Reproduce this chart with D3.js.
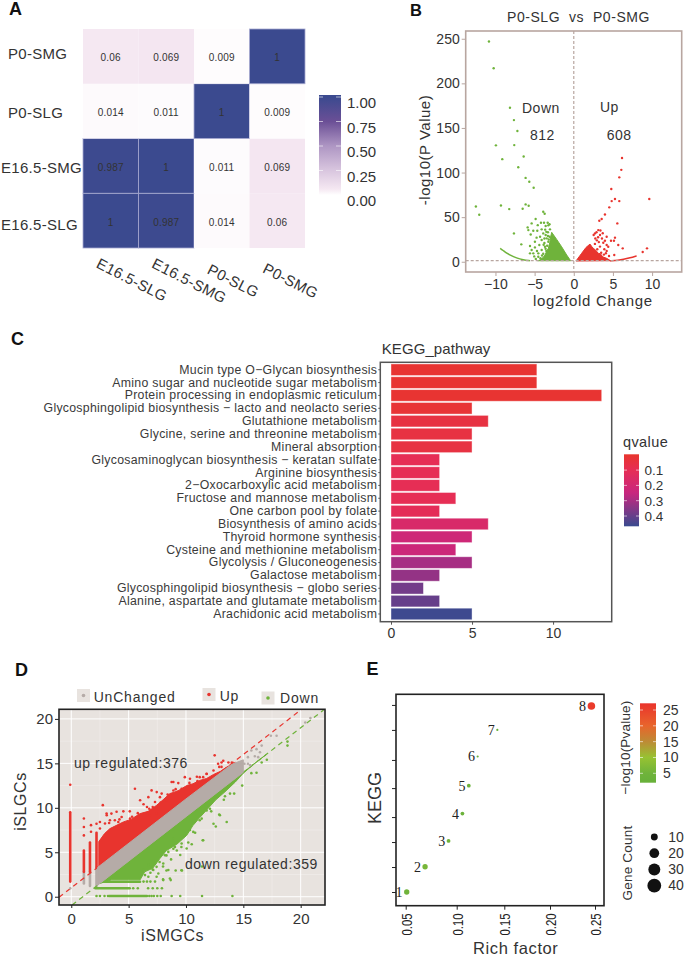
<!DOCTYPE html>
<html>
<head>
<meta charset="utf-8">
<script src="https://cdnjs.cloudflare.com/ajax/libs/d3/7.8.5/d3.min.js"></script>
<style>
  html, body { margin: 0; padding: 0; background: #fff; }
  svg { display: block; }
  text { font-family: "Liberation Sans", Arial, sans-serif; fill: #333; }
  .num { font-family: "Liberation Serif", serif; fill: #222; }
</style>
</head>
<body>
<div id="chart"></div>
<script>
// panel A
const samplesA = ["E16.5-SLG", "E16.5-SMG", "P0-SLG", "P0-SMG"];
const matrixA = [
  [1, 0.987, 0.014, 0.06],
  [0.987, 1, 0.011, 0.069],
  [0.014, 0.011, 1, 0.009],
  [0.06, 0.069, 0.009, 1],
];
const colorTicksA = [0, 0.25, 0.5, 0.75, 1];

// panel B
const downPoints = [
  [-10.83, 247], [-10.23, 217], [-8.15, 172.7], [-7.64, 158.8], [-7.2, 146.5], [-9.94, 130.5],
  [-7.6, 130.8], [-6.4, 118], [-9.13, 115], [-7.09, 106], [-6.15, 94], [-5.68, 89.7], [-5.12, 83],
  [-12.5, 62], [-12.07, 52.7], [-9.3, 63], [-8.24, 59], [-6.53, 59.4], [-6.15, 64.3], [-5.76, 62.8],
  [-3.9, 56], [-3.72, 53.8], [-4.87, 47.9], [-7.64, 31.8], [-6.7, 19.5], [-5.38, 43], [-5.89, 38.5],
  [-5.8, 35.5], [-5.17, 34.8], [-4.66, 34.8], [-4.1, 36.3], [-4.19, 43.7], [-3.8, 43.7], [-3.33, 43.7],
  [-3.25, 40.8], [-3.59, 40], [-3.04, 36.3], [-5.59, 17.6], [-4.96, 22.4], [-4.1, 24.3], [-3.59, 30],
  [-3.9, 31.8], [-3.46, 26.2], [-4.4, 18.7], [-4.96, 16.1], [-5.38, 13.1], [-5.17, 9.4], [-4.53, 9.4],
  [-4.1, 13.1], [-3.68, 16.8], [-3.25, 22.4], [-4.53, 5.6], [-5.59, 9.4], [-3.3, 33], [-3.1, 28],
  [-3.75, 21], [-4.3, 28], [-4.75, 27], [-5.05, 6], [-3.9, 9], [-4.25, 4], [-5.5, 30.5], [-3.5, 12],
  [-3.65, 36], [-3.1, 42], [-4.6, 41], [-3.4, 18], [-3.6, 14.5], [-3.85, 19], [-4.05, 7], [-3.3, 29],
  [-3.5, 33.5], [-4.7, 12], [-4.85, 3.2], [-3.75, 26], [-3.2, 25],
];
const downTail = [[-9.4, 15], [-9.0, 12.5], [-8.7, 10.5], [-8.15, 7.5], [-7.3, 4.1], [-6.45, 2.2], [-5.6, 1.1]];
const downCloud = [
  [-0.4, 1.1], [-0.9, 7.5], [-1.55, 16.8], [-2.18, 25], [-2.82, 33], [-2.95, 28], [-3.05, 22],
  [-3.25, 15], [-3.45, 12], [-3.68, 7.5], [-3.9, 5], [-4.3, 2], [-4.6, 1.1],
];
const upPoints = [
  [6.16, 116.3], [6.07, 103], [5.81, 94.6], [4.79, 81.5], [9.64, 70.3], [5.26, 70.3], [4.84, 68],
  [5.81, 68], [4.53, 61], [3.98, 53], [3.56, 47.9], [3.26, 46], [5.56, 43], [2.54, 30], [9.35, 15],
  [8.8, 10.9], [3.13, 35.5], [3.4, 35], [2.7, 31.8], [3.35, 30], [4.2, 28], [5.26, 27], [4.75, 23.6],
  [5.13, 23.6], [3.98, 23.6], [3.77, 21.3], [4.2, 18.7], [6.25, 15], [5.68, 18.7], [5.17, 7.5],
  [4.4, 16.8], [2.95, 24], [3.2, 22], [2.7, 20], [3.35, 17], [3.9, 14], [4.2, 12], [3.5, 10], [2.75, 26],
  [3.1, 27.5], [3.6, 26], [3.0, 14], [3.85, 8], [4.5, 6.5], [4.1, 9.5], [2.9, 33], [3.7, 32],
];
const upTail = [[4.6, 1], [5.68, 1.6], [6.33, 2.6], [7.18, 4.4], [8.03, 6.6]];
const upCloud = [
  [0.28, 0.8], [1, 9.4], [1.56, 16], [2.07, 19.8], [2.3, 17], [2.5, 15], [2.8, 13], [3.13, 9.4],
  [3.4, 9], [3.7, 5.5], [4.2, 3.8], [4.7, 1.2],
];
const pThreshold = 1.3;
const xTicksB = [-10, -5, 0, 5, 10];
const yTicksB = [0, 50, 100, 150, 200, 250];

// panel C
const pathways = [
  "Mucin type O\u2212Glycan biosynthesis",
  "Amino sugar and nucleotide sugar metabolism",
  "Protein processing in endoplasmic reticulum",
  "Glycosphingolipid biosynthesis \u2212 lacto and neolacto series",
  "Glutathione metabolism",
  "Glycine, serine and threonine metabolism",
  "Mineral absorption",
  "Glycosaminoglycan biosynthesis \u2212 keratan sulfate",
  "Arginine biosynthesis",
  "2\u2212Oxocarboxylic acid metabolism",
  "Fructose and mannose metabolism",
  "One carbon pool by folate",
  "Biosynthesis of amino acids",
  "Thyroid hormone synthesis",
  "Cysteine and methionine metabolism",
  "Glycolysis / Gluconeogenesis",
  "Galactose metabolism",
  "Glycosphingolipid biosynthesis \u2212 globo series",
  "Alanine, aspartate and glutamate metabolism",
  "Arachidonic acid metabolism",
];
const pathwayCounts = [9, 9, 13, 5, 6, 5, 5, 3, 3, 3, 4, 3, 6, 5, 4, 5, 3, 2, 3, 5];
const pathwayQ = [0.01, 0.01, 0.01, 0.02, 0.05, 0.05, 0.05, 0.1, 0.1, 0.1, 0.1, 0.11, 0.17, 0.22, 0.23, 0.3, 0.33, 0.38, 0.4, 0.46];
const qTicks = [0.1, 0.2, 0.3, 0.4];

// panel D
const redStripes = [[-0.09, 1.7, 9.5], [1.1, 2.8, 5.2], [1.63, 2.8, 6.1], [2.2, 3.3, 7.2]];
const greyStripes = [[1.1, 1.5, 2.8], [1.63, 1.2, 2.8], [2.2, 1.2, 3.3]];
const redOutliers = [
  [-0.09, 12.6], [1.1, 8.8], [1.1, 7.85], [1.1, 6.9], [1.72, 8.05], [1.72, 7.3], [2.2, 8.2], [2.75, 10.3],
  [5.55, 12.15], [3.08, 9.35], [3.5, 9.35], [3.95, 9.55], [4.54, 9.6], [5.1, 9.6], [6.0, 10.85], [6.3, 10.4],
  [7.3, 10.65], [7.73, 11.2], [8.75, 12.9], [8.9, 11.95], [9.62, 12.15], [10.95, 13.5], [12.5, 15.9],
  [12.8, 14.95], [13.25, 15.3], [13.7, 15.1], [11.5, 13.45], [12.4, 14.2], [2.5, 8.4], [3.8, 8.6], [6.6, 10.1],
  [8.3, 10.85], [3.3, 8.3], [4.2, 8.7], [5.3, 9], [5.8, 9.4], [6.8, 9.9], [7.1, 10.1], [7.8, 10.6], [8.4, 11.5],
  [9.1, 12.1], [9.3, 11.8], [10.3, 12.8], [11, 13], [11.8, 13.8], [12.9, 14.6], [13.1, 14.6],
  [3.09, 9.16], [4.39, 8.97], [5.12, 8.79], [5.84, 8.97], [6.86, 9.16], [7.45, 9.35], [2.5, 7.67], [2.94, 8.23],
  [3.37, 8.6], [4.1, 8.41], [13.1, 15.1], [14, 15.1], [9.9, 13.45], [10.35, 13.27], [9.33, 12.78], [8.9, 12.9],
  [7.88, 11.6], [7.45, 11.77], [7, 11.96], [6.72, 11.2], [11.2, 13.45], [11.8, 13.83],
];
const redEnvelope = [
  [2.4, 3.4], [2.4, 6.2], [2.9, 7.1], [3.37, 7.66], [3.9, 8], [4.54, 8.41], [5.2, 8.7], [6.0, 9.35], [6.7, 9.6],
  [7.44, 10.28], [8.0, 10.9], [8.6, 11.6], [9.3, 11.9], [10.06, 12.5], [10.6, 12.7], [11.2, 13.08], [11.8, 13.3],
  [12.4, 13.75], [13, 14.1], [13.55, 14.58], [14.3, 15.1],
];
const greenOutliers = [
  [12.9, 9.25], [13.55, 8.4], [12.4, 8.2], [12.6, 7.9], [14.9, 12.5], [16.15, 13.95], [18.85, 17.45],
  [18.85, 17.0], [17.05, 15.4], [11.5, 6.35], [10.8, 7.2], [11.4, 3.4], [9.6, 5.6], [9.2, 5.2], [8.9, 5.4],
  [8.3, 4.65], [7.7, 3.9], [9.65, 2.95], [9.1, 2.95], [8.3, 2.95], [7.3, 3.75], [8.0, 1.95], [8.6, 2.05],
  [7.44, 2.25], [11.2, 8.6], [11.8, 9.7], [10.35, 7.5], [10.2, 6.1], [10.5, 5.9], [9.9, 6.9], [9.5, 4.7],
  [8.7, 4.2], [8.0, 3.4], [7.1, 3.05], [6.9, 2.7], [14.2, 11.6], [13.3, 10.9], [12.2, 9.6], [16.6, 15.1],
  [15.7, 13.9], [6.3, 1.7], [6.6, 1.7], [6.9, 1.7], [7.3, 1.7], [6.7, 0.95], [7.1, 0.95], [7.5, 0.95], [7.9, 0.95],
  [5.4, 0.95], [5.8, 0.95], [2.2, 0.08], [2.5, 0.08], [2.9, 0.08], [3.2, 0.08], [6.8, 0.08], [7, 0.08], [7.2, 0.08],
  [7.5, 0.08], [7.8, 0.08], [8.75, 0.08], [9.5, 0.08], [11.4, 0.08], [14.05, 0.08],
  [6.28, 3], [6.72, 3.55], [7.15, 4.1], [7.44, 3.36], [8.17, 4.67], [8.46, 5.04], [9.04, 5.6], [9.62, 5.98],
  [10.06, 5.43], [8.9, 6.55], [8.02, 3.74], [7.59, 2.62], [7.15, 3], [6.72, 2.24], [6.43, 2.43], [10.64, 7.29],
  [11.46, 6.36], [8.46, 3], [9.6, 2.97], [8.02, 1.87], [8.67, 1.87], [11.37, 8.79], [12.09, 9.9], [13.84, 11.6],
  [13.4, 11.3], [12.96, 9.16],
];
const greenRows = [[0.08, 3.3, 6.6], [0.95, 2.1, 5.1], [1.68, 2.5, 6]];
const greenEnvelope = [
  [2.5, 1.5], [3.5, 1.9], [6, 1.9], [6.4, 2.8], [7.1, 3.2], [7.73, 4.3], [8.3, 5.2], [9.2, 5.9], [10.06, 6.9], [10.6, 8],
  [11.2, 8.9], [11.9, 9.9], [12.6, 10.9], [13.4, 11.8], [14.3, 12.9], [15, 13.9], [16, 15], [17, 16],
];
const greyEnvelopeTop = [[2.3, 3.3], [6, 7], [10, 11], [14, 14.9], [15, 15.4]];
const greyEnvelopeBottom = [[15, 14], [14, 13], [10, 9], [6, 5], [2.3, 1.3]];
const greyPoints = [
  [17.9, 18.1], [17.4, 18.1], [20.85, 20.1], [20.4, 19.6], [16.6, 17], [16.15, 16.6], [15.7, 16.45], [16.45, 16.25],
  [15.4, 15.7], [16, 15.8], [15.1, 14.95], [14.7, 15.05], [15.4, 14.95], [15.6, 14.8], [16.3, 15.7], [-0.09, 0.95],
];
const xTicksD = [0, 5, 10, 15, 20];
const yTicksD = [0, 5, 10, 15, 20];
const gridMinorD = [2.5, 7.5, 12.5, 17.5];

// panel E
const keggIds = [1, 2, 3, 4, 5, 6, 7, 8];
const richFactor = [0.051, 0.069, 0.092, 0.106, 0.1127, 0.122, 0.1427, 0.246];
const keggRow = [1, 1.95, 2.92, 3.95, 5, 6.1, 7.1, 8];
const keggTickRows = [1, 1.94, 2.88, 3.82, 4.91, 5.97, 7.1, 8.04];
const geneCount = [6, 6, 3, 3, 3, 1, 1, 12];
const pValueLog = [5, 6, 5, 4, 4, 3, 3, 26];
const richTicks = [0.05, 0.1, 0.15, 0.2, 0.25];
const pTicksE = [5, 10, 15, 20, 25];
const geneLegend = [10, 20, 30, 40];

const RED = "#e8342e";
const GREEN = "#6fb33b";
const GREY = "#b5aba7";

const svg = d3.select("#chart").append("svg").attr("width", 685).attr("height", 958);
const defs = svg.append("defs");

const addGradient = (id, scale, top, bottom) => {
  // vertical gradient for a colourbar, stops sorted top to bottom
  const grad = defs.append("linearGradient").attr("id", id).attr("x1", 0).attr("x2", 0).attr("y1", 0).attr("y2", 1);
  scale.domain()
    .map((d) => ({ off: (top - d) / (top - bottom), col: scale(d) }))
    .sort((a, b) => a.off - b.off)
    .forEach((s) => grad.append("stop").attr("offset", s.off).attr("stop-color", s.col));
};

const letter = (t, x, y) =>
  svg.append("text").text(t).attr("x", x).attr("y", y)
    .attr("font-size", 18).attr("font-weight", "bold").style("fill", "#111");

const rotLabel = (t, x, y, size, spacing) =>
  svg.append("text").text(t)
    .attr("transform", `translate(${x},${y}) rotate(-90)`)
    .attr("text-anchor", "middle")
    .attr("font-size", size)
    .style("letter-spacing", spacing || 0);

const label = (t, x, y, size, spacing) =>
  svg.append("text").text(t).attr("x", x).attr("y", y)
    .attr("font-size", size)
    .style("letter-spacing", spacing || 0);

const styleAxis = (g, color, size, textColor) => {
  g.select(".domain").remove();
  g.selectAll(".tick line").attr("stroke", color).attr("stroke-width", 1);
  g.selectAll(".tick text").attr("font-size", size).style("fill", textColor || "#333");
};

const drawA = () => {
  const x = d3.scaleBand().domain(samplesA).range([83, 305]);
  const y = d3.scaleBand().domain(samplesA.slice().reverse()).range([29, 248]);
  const color = d3.scaleLinear()
    .domain([0, 0.06, 0.25, 0.5, 0.75, 1])
    .range(["#ffffff", "#f5e8f2", "#d9c6df", "#ae96c3", "#6b4f96", "#3b4a8f"]);

  samplesA.forEach((rowName, r) => {
    samplesA.forEach((colName, c) => {
      const v = matrixA[r][c];
      svg.append("rect")
        .attr("x", x(colName)).attr("y", y(rowName))
        .attr("width", x.bandwidth()).attr("height", y.bandwidth())
        .attr("fill", color(v))
        .attr("stroke", v > 0.5 ? "#a6a9d0" : "none").attr("stroke-width", 0.8);
      svg.append("text").text(v)
        .attr("x", x(colName) + x.bandwidth() / 2)
        .attr("y", y(rowName) + y.bandwidth() / 2 + 5)
        .attr("text-anchor", "middle")
        .attr("font-size", 10).style("letter-spacing", "0.2px");
    });
  });

  // row labels sit unevenly in the original
  const rowDy = { "P0-SMG": 2.5, "P0-SLG": 7, "E16.5-SMG": 7, "E16.5-SLG": 9 };
  samplesA.forEach((s) => {
    label(s, s.startsWith("P0") ? 8 : 1, y(s) + y.bandwidth() / 2 + rowDy[s], 15, "0.3px");
  });
  const colDy = { "E16.5-SLG": 267, "E16.5-SMG": 267, "P0-SLG": 273, "P0-SMG": 272 };
  samplesA.forEach((s) => {
    svg.append("text").text(s)
      .attr("transform", `translate(${x(s) + x.bandwidth() / 2 - 15.5},${colDy[s]}) rotate(27)`)
      .attr("font-size", 15).style("letter-spacing", "0.3px");
  });

  const bar = d3.scaleLinear().domain([0, 1]).range([195, 97]);
  addGradient("gradA", color, bar.invert(95), bar.invert(195));
  svg.append("rect").attr("x", 319).attr("y", 95).attr("width", 22).attr("height", 100).attr("fill", "url(#gradA)");
  const axis = svg.append("g").attr("transform", "translate(341,0)")
    .call(d3.axisRight(bar).tickValues(colorTicksA).tickFormat(d3.format(".2f")).tickSize(0).tickPadding(6));
  styleAxis(axis, "none", 15);
  axis.selectAll(".tick text").attr("dy", "0.7em");
  colorTicksA.forEach((t) => {
    svg.append("line").attr("x1", 336).attr("x2", 341).attr("y1", bar(t)).attr("y2", bar(t)).attr("stroke", "#fff").attr("opacity", 0.6);
    svg.append("line").attr("x1", 319).attr("x2", 323).attr("y1", bar(t)).attr("y2", bar(t)).attr("stroke", "#fff").attr("opacity", 0.6);
  });
};

const drawB = () => {
  const x = d3.scaleLinear().domain([-13.8, 13.78]).range([465.7, 681.7]);
  const y = d3.scaleLinear().domain([-11.5, 258.7]).range([272, 31]);
  const frame = "#b8a6a0";

  const ax = svg.append("g").attr("transform", "translate(0,272)")
    .call(d3.axisBottom(x).tickValues(xTicksB).tickSize(4).tickPadding(3).tickFormat(d3.format("d")));
  styleAxis(ax, frame, 14);
  const ay = svg.append("g").attr("transform", "translate(465.7,0)")
    .call(d3.axisLeft(y).tickValues(yTicksB).tickSize(4).tickPadding(2));
  styleAxis(ay, frame, 14);

  const cloud = d3.line().x((d) => x(d[0])).y((d) => y(d[1])).curve(d3.curveLinearClosed);
  const tail = d3.line().x((d) => x(d[0])).y((d) => y(d[1])).curve(d3.curveBasis);

  svg.append("path").attr("d", cloud(downCloud)).attr("fill", GREEN).attr("stroke", GREEN);
  svg.append("path").attr("d", cloud(upCloud)).attr("fill", RED).attr("stroke", RED);
  svg.append("path").attr("d", tail(downTail)).attr("fill", "none").attr("stroke", GREEN).attr("stroke-width", 1.5);
  svg.append("path").attr("d", tail(upTail)).attr("fill", "none").attr("stroke", RED).attr("stroke-width", 1.5);

  svg.selectAll(".down").data(downPoints).enter().append("circle").attr("class", "down")
    .attr("cx", (d) => x(d[0])).attr("cy", (d) => y(d[1])).attr("r", 1.2).attr("fill", GREEN);
  svg.selectAll(".up").data(upPoints).enter().append("circle").attr("class", "up")
    .attr("cx", (d) => x(d[0])).attr("cy", (d) => y(d[1])).attr("r", 1.2).attr("fill", RED);

  svg.append("line").attr("x1", 465.7).attr("x2", 681.7).attr("y1", y(pThreshold)).attr("y2", y(pThreshold))
    .attr("stroke", frame).attr("stroke-width", 1.2).attr("stroke-dasharray", "3 2");
  svg.append("line").attr("x1", x(0)).attr("x2", x(0)).attr("y1", 31).attr("y2", 272)
    .attr("stroke", frame).attr("stroke-width", 1.2).attr("stroke-dasharray", "3 2");
  svg.append("rect").attr("x", 465.7).attr("y", 31).attr("width", 216).attr("height", 241)
    .attr("fill", "none").attr("stroke", frame).attr("stroke-width", 1.6);

  label("P0-SLG  vs  P0-SMG", 507, 22, 14, "0.55px").style("white-space", "pre");
  label("Down", 522, 113, 14, "0.5px");
  label("812", 530, 140, 14, "0.5px");
  label("Up", 600, 112, 14, "0.5px");
  label("608", 606.7, 140, 14, "0.5px");
  label("log2fold Change", 533, 306, 15, "0.7px");
  rotLabel("-log10(P Value)", 430, 150, 15, "0.5px");
};

const drawC = () => {
  const x = d3.scaleLinear().domain([0, 13]).range([391, 601.7]);
  const y = d3.scaleBand().domain(pathways).range([363.3, 620.4]).paddingInner(0.1).paddingOuter(0.05);
  const color = d3.scaleLinear().domain([0, 0.1, 0.25, 0.465]).range(["#e8352e", "#e62e55", "#c8267f", "#3b4a8f"]);

  svg.selectAll(".bar").data(pathways).enter().append("rect").attr("class", "bar")
    .attr("x", x(0))
    .attr("y", (d) => y(d))
    .attr("width", (d, i) => x(pathwayCounts[i]) - x(0))
    .attr("height", y.bandwidth())
    .attr("fill", (d, i) => color(pathwayQ[i]))
    .attr("stroke", "#fff").attr("stroke-opacity", 0.5).attr("stroke-width", 0.8);

  svg.append("rect").attr("x", 380.3).attr("y", 362.3).attr("width", 231.4).attr("height", 259.4)
    .attr("fill", "none").attr("stroke", "#555").attr("stroke-width", 1.5);

  const ay = svg.append("g").attr("transform", "translate(380.3,0)")
    .call(d3.axisLeft(y).tickSize(2).tickPadding(1));
  styleAxis(ay, "#555", 12.3);
  ay.selectAll(".tick text").style("letter-spacing", "0.28px").style("fill", "#3a3a3a");
  const ax = svg.append("g").attr("transform", "translate(0,621.7)")
    .call(d3.axisBottom(x).tickValues([0, 5, 10]).tickSize(3).tickPadding(3));
  styleAxis(ax, "#555", 14);

  label("KEGG_pathway", 381.7, 354, 15, "0.1px");
  label("qvalue", 623, 447, 14.5, "0.4px");

  const bar = d3.scaleLinear().domain([0, 0.4]).range([454.8, 516]);
  addGradient("gradC", color, bar.invert(454.3), bar.invert(526.3));
  svg.append("rect").attr("x", 624).attr("y", 454.3).attr("width", 15).attr("height", 72).attr("fill", "url(#gradC)");
  const axis = svg.append("g").attr("transform", "translate(639,0)")
    .call(d3.axisRight(bar).tickValues(qTicks).tickFormat(d3.format(".1f")).tickSize(0).tickPadding(5.5));
  styleAxis(axis, "none", 13.5);
  qTicks.forEach((t) => {
    svg.append("line").attr("x1", 636).attr("x2", 639).attr("y1", bar(t)).attr("y2", bar(t)).attr("stroke", "#fff").attr("opacity", 0.6);
    svg.append("line").attr("x1", 624).attr("x2", 627).attr("y1", bar(t)).attr("y2", bar(t)).attr("stroke", "#fff").attr("opacity", 0.6);
  });
};

const drawD = () => {
  const x = d3.scaleLinear().domain([-1.07, 22.12]).range([59, 325]);
  const y = d3.scaleLinear().domain([-0.93, 21.08]).range([905, 709.3]);
  const clipId = "clipD";
  defs.append("clipPath").attr("id", clipId).append("rect").attr("x", 59).attr("y", 709.3).attr("width", 266).attr("height", 195.7);

  svg.append("rect").attr("x", 59).attr("y", 709.3).attr("width", 266).attr("height", 195.7).attr("fill", "#e8e3df");
  gridMinorD.forEach((g) => {
    svg.append("line").attr("x1", x(g)).attr("x2", x(g)).attr("y1", 709.3).attr("y2", 905).attr("stroke", "#f2efed").attr("stroke-width", 0.6);
    svg.append("line").attr("y1", y(g)).attr("y2", y(g)).attr("x1", 59).attr("x2", 325).attr("stroke", "#f2efed").attr("stroke-width", 0.6);
  });
  xTicksD.forEach((g) => {
    svg.append("line").attr("x1", x(g)).attr("x2", x(g)).attr("y1", 709.3).attr("y2", 905).attr("stroke", "#fff").attr("stroke-width", 1);
    svg.append("line").attr("y1", y(g)).attr("y2", y(g)).attr("x1", 59).attr("x2", 325).attr("stroke", "#fff").attr("stroke-width", 1);
  });

  const plot = svg.append("g").attr("clip-path", `url(#${clipId})`);
  const poly = d3.line().x((d) => x(d[0])).y((d) => y(d[1])).curve(d3.curveLinearClosed);
  const dots = (data, color, r) =>
    data.forEach((d) => plot.append("circle").attr("cx", x(d[0])).attr("cy", y(d[1])).attr("r", r).attr("fill", color));

  // dense clouds are too thick to read dot by dot, so they are filled from their read outline
  greyStripes.forEach((s) =>
    plot.append("line").attr("x1", x(s[0])).attr("x2", x(s[0])).attr("y1", y(s[1])).attr("y2", y(s[2]))
      .attr("stroke", GREY).attr("stroke-width", 2.6).attr("stroke-linecap", "round"));
  redStripes.forEach((s) =>
    plot.append("line").attr("x1", x(s[0])).attr("x2", x(s[0])).attr("y1", y(s[1])).attr("y2", y(s[2]))
      .attr("stroke", RED).attr("stroke-width", 2.6).attr("stroke-linecap", "round"));
  greenRows.forEach((s) =>
    plot.append("line").attr("y1", y(s[0])).attr("y2", y(s[0])).attr("x1", x(s[1])).attr("x2", x(s[2]))
      .attr("stroke", GREEN).attr("stroke-width", 2.4).attr("stroke-linecap", "round"));

  // y = x +/- 1 fold-change guides
  plot.append("line").attr("x1", x(-1.07)).attr("y1", y(-0.07)).attr("x2", x(22)).attr("y2", y(23))
    .attr("stroke", RED).attr("stroke-width", 1.2).attr("stroke-dasharray", "5 4");
  plot.append("line").attr("x1", x(0.07)).attr("y1", y(-0.93)).attr("x2", x(22)).attr("y2", y(21))
    .attr("stroke", GREEN).attr("stroke-width", 1.2).attr("stroke-dasharray", "5 4");

  plot.append("path").attr("d", poly(redEnvelope)).attr("fill", RED).attr("stroke", RED);
  plot.append("path").attr("d", poly(greenEnvelope)).attr("fill", GREEN).attr("stroke", GREEN);
  plot.append("path").attr("d", poly(greyEnvelopeTop.concat(greyEnvelopeBottom))).attr("fill", GREY).attr("stroke", GREY);
  dots(redOutliers, RED, 1.3);
  dots(greenOutliers, GREEN, 1.3);
  dots(greyPoints, GREY, 1.3);

  svg.append("rect").attr("x", 59).attr("y", 709.3).attr("width", 266).attr("height", 195.7)
    .attr("fill", "none").attr("stroke", "#222").attr("stroke-width", 1.6);

  const ax = svg.append("g").attr("transform", "translate(0,905)")
    .call(d3.axisBottom(x).tickValues(xTicksD).tickSize(3).tickPadding(5));
  styleAxis(ax, "#222", 15);
  const ay = svg.append("g").attr("transform", "translate(59,0)")
    .call(d3.axisLeft(y).tickValues(yTicksD).tickSize(4).tickPadding(2));
  styleAxis(ay, "#222", 15);

  label("up regulated:376", 74, 768.3, 14, "0.55px");
  label("down regulated:359", 185, 869, 14, "0.55px");
  label("iSMGCs", 141, 941, 16, "0.6px");
  rotLabel("iSLGCs", 26, 801.5, 16, "0.6px");

  const legendKeys = [
    { name: "UnChanged", c: GREY, kx: 77, ky: 689, tx: 93.7, ty: 702 },
    { name: "Up", c: RED, kx: 202.5, ky: 688, tx: 219.7, ty: 700.7 },
    { name: "Down", c: GREEN, kx: 261.5, ky: 691.5, tx: 280, ty: 703 },
  ];
  legendKeys.forEach((k) => {
    svg.append("rect").attr("x", k.kx).attr("y", k.ky).attr("width", 13).attr("height", 13).attr("fill", "#e8e3df");
    svg.append("circle").attr("cx", k.kx + 6.5).attr("cy", k.ky + 6.5).attr("r", 1.8).attr("fill", k.c);
    label(k.name, k.tx, k.ty, 14, "0.8px");
  });
};

const drawE = () => {
  const x = d3.scaleLinear().domain(richTicks).range([405.7, 456.7, 504.3, 550, 595]);
  const y = d3.scaleLinear().domain([1, 8]).range([892, 706]);
  const size = d3.scaleSqrt().domain([0, 40]).range([0, 6.9]);
  const color = d3.scaleLinear().domain([3, 5, 10, 15, 20, 27])
    .range(["#69b13a", "#6fb33b", "#97c232", "#bd8b35", "#e8652c", "#ea342c"]);

  svg.append("rect").attr("x", 396).attr("y", 694.3).attr("width", 208).attr("height", 211.4)
    .attr("fill", "#fff").attr("stroke", "#222").attr("stroke-width", 1.6);

  const ay = svg.append("g").attr("transform", "translate(396,0)")
    .call(d3.axisLeft(y).tickValues(keggTickRows).tickSize(4).tickFormat(""));
  styleAxis(ay, "#222", 10);
  const ax = svg.append("g").attr("transform", "translate(0,905.7)")
    .call(d3.axisBottom(x).tickValues(richTicks).tickSize(4).tickFormat(""));
  styleAxis(ax, "#222", 10);
  // rotated, squeezed tick labels as in the original
  richTicks.forEach((t) => {
    svg.append("text").text(d3.format(".2f")(t))
      .attr("transform", `translate(${x(t) + 6},935.5) rotate(-90) scale(0.95,1.25)`)
      .attr("font-size", 12).style("fill", "#222");
  });

  keggIds.forEach((k, i) => {
    const r = size(geneCount[i]);
    svg.append("circle").attr("cx", x(richFactor[i])).attr("cy", y(keggRow[i])).attr("r", r).attr("fill", color(pValueLog[i]));
    svg.append("text").attr("class", "num").text(k)
      .attr("x", x(richFactor[i]) - r - 1.5).attr("y", y(keggRow[i]) + 5)
      .attr("text-anchor", "end").attr("font-size", 14);
  });

  rotLabel("KEGG", 380.7, 798, 18);
  label("Rich factor", 473, 954, 16.5, "0.6px");

  const bar = d3.scaleLinear().domain([5, 25]).range([773.3, 710]);
  addGradient("gradE", color, bar.invert(703.3), bar.invert(782.7));
  svg.append("rect").attr("x", 640).attr("y", 703.3).attr("width", 16).attr("height", 79.4).attr("fill", "url(#gradE)");
  const axis = svg.append("g").attr("transform", "translate(656,0)")
    .call(d3.axisRight(bar).tickValues(pTicksE).tickSize(0).tickPadding(7));
  styleAxis(axis, "none", 14);
  pTicksE.forEach((t) => {
    svg.append("line").attr("x1", 653).attr("x2", 656).attr("y1", bar(t)).attr("y2", bar(t)).attr("stroke", "#fff").attr("opacity", 0.6);
    svg.append("line").attr("x1", 640).attr("x2", 643).attr("y1", bar(t)).attr("y2", bar(t)).attr("stroke", "#fff").attr("opacity", 0.6);
  });
  rotLabel("\u2212log10(Pvalue)", 630, 747.5, 13.5, "0.2px");
  rotLabel("Gene Count", 631.7, 863, 13.5, "0.2px");

  const legendY = d3.scaleLinear().domain([10, 40]).range([837, 885.7]);
  geneLegend.forEach((g) => {
    svg.append("circle").attr("cx", 654.3).attr("cy", legendY(g)).attr("r", size(g)).attr("fill", "#111");
    label(g, 668.3, legendY(g) + 4.5, 14);
  });
};

letter("A", 9, 15);
svg.append("text").text("B").attr("x", 410).attr("y", 16).attr("font-size", 16.5).attr("font-weight", "bold").style("fill", "#111");
letter("C", 11, 345);
letter("D", 15, 676);
letter("E", 366.5, 675);

drawA();
drawB();
drawC();
drawD();
drawE();
</script>
</body>
</html>
